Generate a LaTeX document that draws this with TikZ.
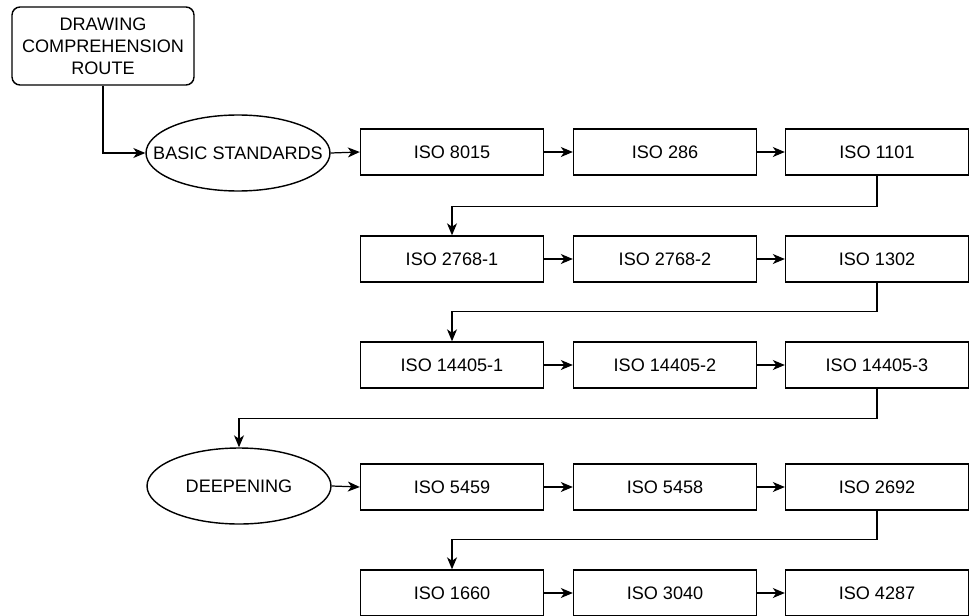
\documentclass[tikz,border=0pt]{standalone}
\usepackage{fontspec}
\setmainfont{Liberation Sans}
\usetikzlibrary{shapes.geometric,arrows.meta}

\tikzset{
    isobox/.style={draw=black, line width=0.8pt, rectangle, minimum width=3.66cm, minimum height=0.92cm, inner sep=0pt,
        font=\fontsize{10.3}{12.5}\selectfont},
    stage/.style={draw=black, line width=0.8pt, ellipse, minimum width=3.68cm, minimum height=1.52cm,
        inner xsep=-0.6cm, inner ysep=0pt, font=\fontsize{10.3}{12.5}\selectfont},
    startbox/.style={draw=black, line width=0.8pt, rectangle, rounded corners=0.16cm, minimum width=3.64cm,
        minimum height=1.56cm, align=center, font=\fontsize{10.3}{12.5}\selectfont},
    conn/.style={draw=black, line width=0.7pt, -{Stealth[length=2.4mm, width=2mm, inset=0.7mm]}}
}

\begin{document}
\begin{tikzpicture}[x=0.02cm, y=-0.02cm]
            \useasboundingbox (0,0) rectangle (969,615);

            \node[startbox] (start) at (103,46) {DRAWING\\COMPREHENSION\\ROUTE};
            \node[stage] (basic) at (238,153) {BASIC STANDARDS};
            \node[stage] (deep) at (239,486) {DEEPENING};

            \node[isobox] (iso8015) at (452,152) {ISO 8015};
            \node[isobox] (iso286) at (665,152) {ISO 286};
            \node[isobox] (iso1101) at (877,152) {ISO 1101};

            \node[isobox] (iso2768a) at (452,259) {ISO 2768-1};
            \node[isobox] (iso2768b) at (665,259) {ISO 2768-2};
            \node[isobox] (iso1302) at (877,259) {ISO 1302};

            \node[isobox] (iso14405a) at (452,365) {ISO 14405-1};
            \node[isobox] (iso14405b) at (665,365) {ISO 14405-2};
            \node[isobox] (iso14405c) at (877,365) {ISO 14405-3};

            \node[isobox] (iso5459) at (452,487) {ISO 5459};
            \node[isobox] (iso5458) at (665,487) {ISO 5458};
            \node[isobox] (iso2692) at (877,487) {ISO 2692};

            \node[isobox] (iso1660) at (452,593) {ISO 1660};
            \node[isobox] (iso3040) at (665,593) {ISO 3040};
            \node[isobox] (iso4287) at (877,593) {ISO 4287};

            \draw[conn] (start.south) |- (basic.west);
            \draw[conn] (basic.east) -- (iso8015.west);
            \draw[conn] (iso8015.east) -- (iso286.west);
            \draw[conn] (iso286.east) -- (iso1101.west);

            \draw[conn] (iso1101.south) -- ++(0,31) -| (iso2768a.north);
            \draw[conn] (iso2768a.east) -- (iso2768b.west);
            \draw[conn] (iso2768b.east) -- (iso1302.west);

            \draw[conn] (iso1302.south) -- ++(0,29) -| (iso14405a.north);
            \draw[conn] (iso14405a.east) -- (iso14405b.west);
            \draw[conn] (iso14405b.east) -- (iso14405c.west);

            \draw[conn] (iso14405c.south) -- ++(0,30) -| (deep.north);
            \draw[conn] (deep.east) -- (iso5459.west);
            \draw[conn] (iso5459.east) -- (iso5458.west);
            \draw[conn] (iso5458.east) -- (iso2692.west);

            \draw[conn] (iso2692.south) -- ++(0,29) -| (iso1660.north);
            \draw[conn] (iso1660.east) -- (iso3040.west);
            \draw[conn] (iso3040.east) -- (iso4287.west);
        \end{tikzpicture}
\end{document}
